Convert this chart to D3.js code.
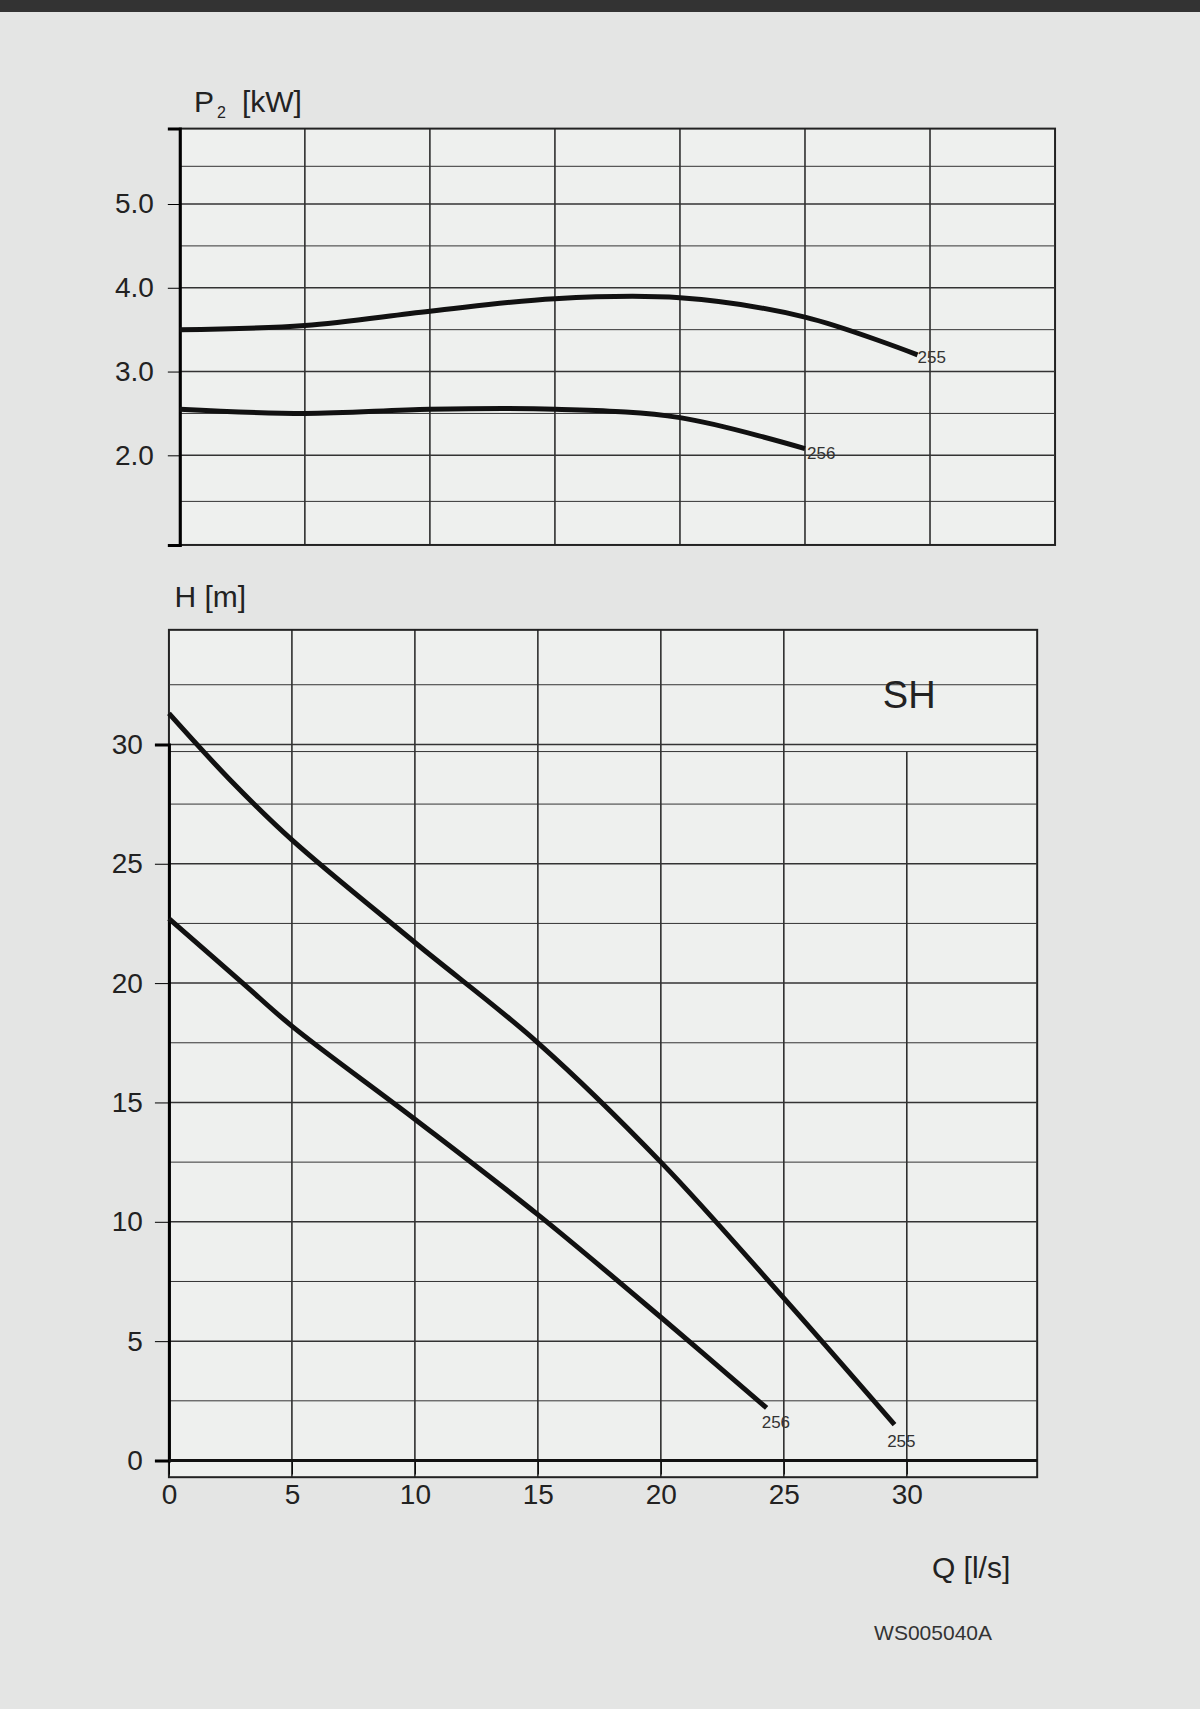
<!DOCTYPE html><html><head><meta charset="utf-8">
<script src="https://cdn.jsdelivr.net/npm/d3@7"></script>
<style>body{margin:0;background:#e4e5e4}text{font-family:"Liberation Sans",Arial,sans-serif}</style></head>
<body><svg id="c" width="1200" height="1709"></svg>
<script>
const qTicks=[0,5,10,15,20,25,30];
const hTicks=[0,5,10,15,20,25,30];
const pTicks=[2,3,4,5];
const q255H=[0,2.5,5,10,15,20,25,29.5], h255=[31.3,28.5,26,21.7,17.5,12.5,6.8,1.5];
const q256H=[0,3,5,10,15,20,24.3], h256=[22.7,20,18.2,14.3,10.3,6,2.2];
const q255P=[0,5,10,15,20,25,29.5], p255=[3.5,3.55,3.72,3.87,3.88,3.65,3.2];
const q256P=[0,5,10,15,20,25], p256=[2.55,2.5,2.55,2.55,2.45,2.08];
const s=1200/1101;
const svg=d3.select("#c");
svg.append("rect").attr("width",1200).attr("height",12).attr("fill","#333");
const line=(xs,ys)=>d3.line().curve(d3.curveCatmullRom).x(d=>xs(d[0])).y(d=>ys(d[1]));
// top chart
const xT=d3.scaleLinear().domain([0,35]).range([165*s,968*s]);
const yT=d3.scaleLinear().domain([0.93,5.9]).range([500*s,118*s]);
const gT=svg.append("g");
gT.append("rect").attr("x",xT(0)).attr("y",yT(5.9)).attr("width",xT(35)-xT(0)).attr("height",yT(0.93)-yT(5.9)).attr("fill","#eef0ee").attr("stroke","#222").attr("stroke-width",2);
[5,10,15,20,25,30].forEach(v=>gT.append("line").attr("x1",xT(v)).attr("x2",xT(v)).attr("y1",yT(5.9)).attr("y2",yT(0.93)).attr("stroke","#222").attr("stroke-width",1.5));
[1.45,2,2.5,3,3.5,4,4.5,5,5.45].forEach(v=>gT.append("line").attr("x1",xT(0)).attr("x2",xT(35)).attr("y1",yT(v)).attr("y2",yT(v)).attr("stroke","#333").attr("stroke-width",v%1===0?1.5:1));
gT.append("g").attr("transform",`translate(${xT(0)},0)`).call(d3.axisLeft(yT).tickValues(pTicks).tickSize(12).tickPadding(14)).call(g=>{g.select(".domain").attr("stroke-width",3);g.selectAll("text").attr("font-size",28).attr("fill","#222");});
gT.append("text").attr("x",178*s).attr("y",103*s).attr("font-size",30).attr("fill","#222").text("P");
gT.append("text").attr("x",199*s).attr("y",108*s).attr("font-size",16).attr("fill","#222").text("2");
gT.append("text").attr("x",222*s).attr("y",103*s).attr("font-size",30).attr("fill","#222").text("[kW]");
gT.append("path").attr("d",line(xT,yT)(q255P.map((q,i)=>[q,p255[i]]))).attr("fill","none").attr("stroke","#111").attr("stroke-width",5);
gT.append("path").attr("d",line(xT,yT)(q256P.map((q,i)=>[q,p256[i]]))).attr("fill","none").attr("stroke","#111").attr("stroke-width",5);
gT.append("text").attr("x",xT(29.5)).attr("y",yT(3.2)+8).attr("font-size",17).attr("fill","#333").text("255");
gT.append("text").attr("x",xT(25)+2).attr("y",yT(2.08)+10).attr("font-size",17).attr("fill","#333").text("256");
// bottom chart
const xB=d3.scaleLinear().domain([0,30]).range([155*s,832*s]);
const yB=d3.scaleLinear().domain([0,30]).range([1340*s,683*s]);
const gB=svg.append("g");
const hTop=34.8, qRight=35.3;
gB.append("rect").attr("x",xB(0)).attr("y",yB(hTop)).attr("width",xB(qRight)-xB(0)).attr("height",yB(-0.7)-yB(hTop)).attr("fill","#eef0ee").attr("stroke","#222").attr("stroke-width",2);
qTicks.slice(1).forEach(v=>gB.append("line").attr("x1",xB(v)).attr("x2",xB(v)).attr("y1",yB(v===30?29.7:hTop)).attr("y2",yB(-0.7)).attr("stroke","#222").attr("stroke-width",1.5));
d3.range(2.5,35,2.5).forEach(v=>gB.append("line").attr("x1",xB(0)).attr("x2",xB(qRight)).attr("y1",yB(v)).attr("y2",yB(v)).attr("stroke","#333").attr("stroke-width",v%5===0?1.5:1));
gB.append("line").attr("x1",xB(0)).attr("x2",xB(qRight)).attr("y1",yB(29.7)).attr("y2",yB(29.7)).attr("stroke","#333");
gB.append("g").attr("transform",`translate(${xB(0)},0)`).call(d3.axisLeft(yB).tickValues(hTicks).tickSize(14).tickPadding(12)).call(g=>{g.select(".domain").attr("stroke-width",3);g.selectAll("text").attr("font-size",28).attr("fill","#222");});
gB.append("g").attr("transform",`translate(0,${yB(0)})`).call(d3.axisBottom(xB).tickValues(qTicks).tickSize(14).tickPadding(10)).call(g=>{g.select(".domain").remove();g.selectAll("text").attr("font-size",28).attr("fill","#222");});
gB.append("line").attr("x1",xB(0)).attr("x2",xB(qRight)).attr("y1",yB(0)).attr("y2",yB(0)).attr("stroke","#111").attr("stroke-width",3);
gB.append("text").attr("x",160*s).attr("y",557*s).attr("font-size",30).attr("fill","#222").text("H [m]");
gB.append("text").attr("x",810*s).attr("y",650*s).attr("font-size",38).attr("fill","#222").text("SH");
gB.append("text").attr("x",855*s).attr("y",1448*s).attr("font-size",30).attr("fill","#222").text("Q [l/s]");
gB.append("text").attr("x",802*s).attr("y",1505*s).attr("font-size",21).attr("fill","#333").text("WS005040A");
gB.append("path").attr("d",line(xB,yB)(q255H.map((q,i)=>[q,h255[i]]))).attr("fill","none").attr("stroke","#111").attr("stroke-width",5);
gB.append("path").attr("d",line(xB,yB)(q256H.map((q,i)=>[q,h256[i]]))).attr("fill","none").attr("stroke","#111").attr("stroke-width",5);
gB.append("text").attr("x",xB(29.2)).attr("y",yB(1.5)+22).attr("font-size",17).attr("fill","#333").text("255");
gB.append("text").attr("x",xB(24.1)).attr("y",yB(2.2)+20).attr("font-size",17).attr("fill","#333").text("256");
</script></body></html>
